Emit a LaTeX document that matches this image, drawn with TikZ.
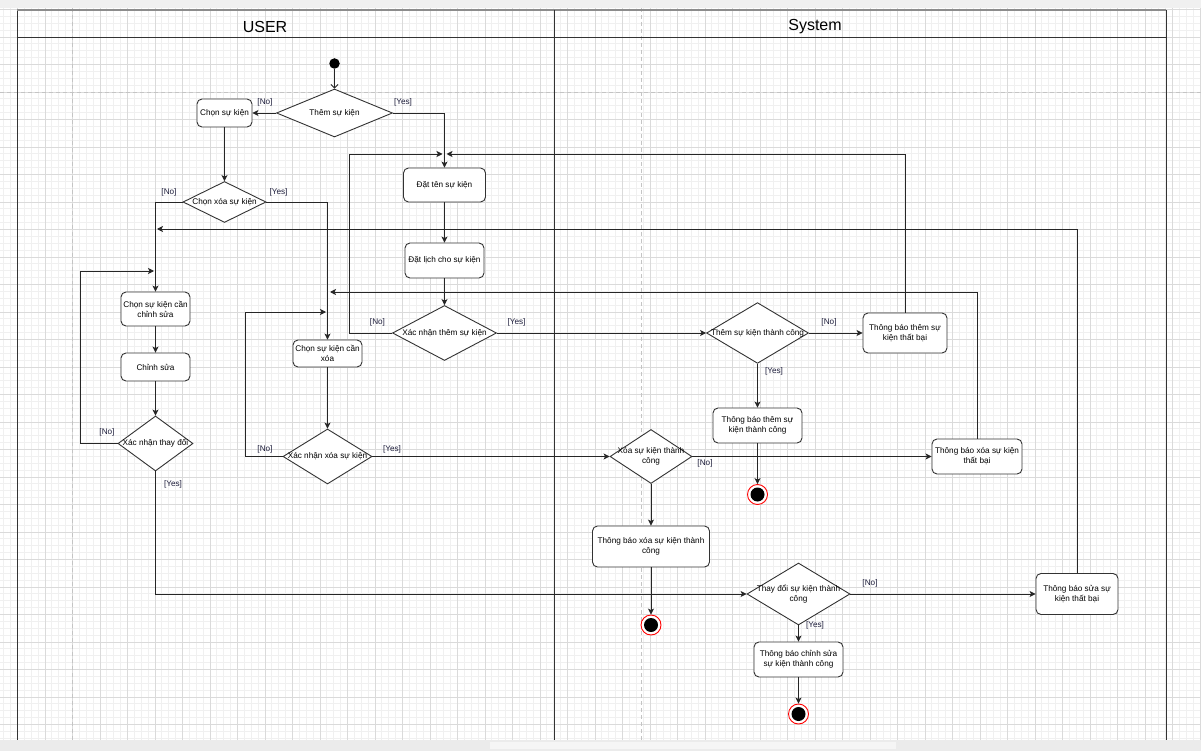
\documentclass[tikz,border=0pt]{standalone}
\usepackage{fontspec}
\setmainfont{Liberation Sans}
\usetikzlibrary{positioning}
\usetikzlibrary{shapes.geometric,arrows.meta}
\definecolor{gridminor}{HTML}{F0F0F0}
\definecolor{gridmajor}{HTML}{DADADA}
\definecolor{pagebreak}{HTML}{C4C4C4}
\definecolor{guardtext}{HTML}{1E1E3C}
\definecolor{lanegray}{HTML}{333333}

\begin{document}
\begin{tikzpicture}[x=1pt,y=-1pt,
  act/.style={draw=lanegray,line width=0.9pt,rounded corners=5pt,fill=white,align=center,
    inner sep=1pt,font=\fontsize{8.2}{10.2}\selectfont},
  dec/.style={diamond,draw=lanegray,line width=0.9pt,fill=white,align=center,
    inner xsep=-20pt,inner ysep=0pt,font=\fontsize{8.2}{10.2}\selectfont},
  guard/.style={inner sep=0pt,text=guardtext,font=\fontsize{8.2}{10}\selectfont},
  startst/.style={circle,fill=black,minimum size=10.5pt,inner sep=0pt},
  endst/.style={circle,draw=red,line width=0.9pt,fill=white,minimum size=20pt,inner sep=0pt,
    path picture={\fill[black] (path picture bounding box.center) circle (7pt);}},
  flow/.style={draw=black!85,line width=0.9pt,-{Stealth[length=6pt,width=6pt,inset=1.5pt]}},
  lanehd/.style={font=\fontsize{16}{18}\selectfont}]
 \useasboundingbox (0,0) rectangle (1201,751);
 \fill[white] (0,0) rectangle (1201,751);
 \foreach \i in {-10,...,164}
   \draw[gridminor,line width=0.8pt] ({72.5+6.875*\i},8) -- ({72.5+6.875*\i},740);
 \foreach \j in {-12,...,94}
   \draw[gridminor,line width=0.8pt] (0,{92+6.875*\j}) -- (1201,{92+6.875*\j});
 \foreach \i in {-2,...,41}
   \draw[gridmajor,line width=0.8pt] ({72.5+27.5*\i},8) -- ({72.5+27.5*\i},740);
 \foreach \j in {-3,...,23}
   \draw[gridmajor,line width=0.8pt] (0,{92+27.5*\j}) -- (1201,{92+27.5*\j});
 \draw[pagebreak,line width=0.9pt,dash pattern=on 4pt off 3pt] (72.5,8) -- (72.5,740);
 \draw[pagebreak,line width=0.9pt,dash pattern=on 4pt off 3pt] (641,8) -- (641,740);
 \draw[pagebreak,line width=0.9pt,dash pattern=on 4pt off 3pt] (0,92) -- (1201,92);
 \fill[black!6] (0,0) rectangle (1201,8);

 \draw[lanegray,line width=0.9pt] (17,740) -- (17,10) -- (1166,10) -- (1166,740);
 \draw[black!45,line width=1.8pt] (17,10) -- (1166,10);
 \draw[lanegray,line width=0.9pt] (17,37) -- (1166,37);
 \draw[lanegray,line width=0.9pt] (554,10) -- (554,740);
 \node[lanehd] (userhd) at (265,27) {USER};
 \node[lanehd] (syshd) at (815,27) {System};

 \node[startst] (start) at (334.5,63.5) {};
 \node[dec,minimum width=116pt,minimum height=48pt] (themq) at (334.5,113) {Thêm sự kiện};
 \node[act,minimum width=55pt,minimum height=28pt] (chon) at (224.5,113) {Chọn sự kiện};
 \node[act,minimum width=82pt,minimum height=34pt] (datten) at (444.5,185) {Đặt tên sự kiện};
 \node[act,minimum width=79pt,minimum height=35pt] (datlich) at (444.5,260.5) {Đặt lịch cho sự kiện};
 \node[dec,minimum width=83pt,minimum height=41pt] (xoaq) at (224.5,202) {Chọn xóa sự kiện};
 \node[act,minimum width=69pt,minimum height=34pt] (chonsua) at (155.5,309) {Chọn sự kiện cần\\chỉnh sửa};
 \node[act,minimum width=69pt,minimum height=28pt] (chinhsua) at (155.5,367) {Chỉnh sửa};
 \node[dec,minimum width=75pt,minimum height=55pt] (xnsua) at (155.5,443.5) {Xác nhận thay đổi};
 \node[act,minimum width=69pt,minimum height=27pt] (chonxoa) at (327.5,353.5) {Chọn sự kiện cần\\xóa};
 \node[dec,minimum width=89pt,minimum height=55pt] (xnxoa) at (327.5,456.5) {Xác nhận xóa sự kiện};
 \node[dec,minimum width=104pt,minimum height=55pt] (xnthem) at (444.5,333) {Xác nhận thêm sự kiện};
 \node[dec,minimum width=102pt,minimum height=55pt] (themkq) at (757.5,333) {Thêm sự kiện thành công};
 \node[act,minimum width=84pt,minimum height=40pt] (themtb) at (905,333) {Thông báo thêm sự\\kiện thất bại};
 \node[act,minimum width=89pt,minimum height=35pt] (themtc) at (757.5,425.5) {Thông báo thêm sự\\kiện thành công};
 \node[endst] (endthem) at (757.5,494.5) {};
 \node[dec,minimum width=82pt,minimum height=54pt] (xoakq) at (651,456.5) {Xóa sự kiện thành\\công};
 \node[act,minimum width=90pt,minimum height=35pt] (xoatb) at (977,456.5) {Thông báo xóa sự kiện\\thất bại};
 \node[act,minimum width=117pt,minimum height=41pt] (xoatc) at (651,546.5) {Thông báo xóa sự kiện thành\\công};
 \node[endst] (endxoa) at (651,625) {};
 \node[dec,minimum width=103pt,minimum height=55pt] (suakq) at (798.5,594) {Thay đổi sự kiện thành\\công};
 \node[act,minimum width=82pt,minimum height=41pt] (suatb) at (1077,594) {Thông báo sửa sự\\kiện thất bại};
 \node[act,minimum width=89pt,minimum height=35pt] (suatc) at (798.5,659.5) {Thông báo chỉnh sửa\\sự kiện thành công};
 \node[endst] (endsua) at (798.5,714) {};

 \coordinate (cthem) at (349,154);
 \coordinate (jthem) at (444.5,154);
 \coordinate (csua) at (80,271);
 \coordinate (jsua) at (155.5,271);
 \coordinate (jsua2) at (155.5,229);
 \coordinate (cxoa) at (245,312);
 \coordinate (jxoa) at (327.5,312);
 \coordinate (jxoa2) at (327.5,292);

 \draw[draw=black!85,line width=0.9pt,-{Straight Barb[length=3.5pt,width=7pt]}] (start) -- (themq.north);
 \draw[flow] (themq.west) -- (chon.east);
 \draw[flow] (themq.east) -| (datten.north);
 \draw[flow] (chon.south) -- (xoaq.north);
 \draw[flow] (xoaq.west) -| (chonsua.north);
 \draw[flow] (xoaq.east) -| (chonxoa.north);
 \draw[flow] (datten.south) -- (datlich.north);
 \draw[flow] (datlich.south) -- (xnthem.north);
 \draw[flow,shorten >=2pt] (xnthem.west) -| (cthem) -- (jthem);
 \draw[flow] (xnthem.east) -- (themkq.west);
 \draw[flow] (themkq.east) -- (themtb.west);
 \draw[flow,shorten >=2pt] (themtb.north) |- (jthem);
 \draw[flow] (themkq.south) -- (themtc.north);
 \draw[flow] (themtc.south) -- (endthem.north);
 \draw[flow] (chonsua.south) -- (chinhsua.north);
 \draw[flow] (chinhsua.south) -- (xnsua.north);
 \draw[flow,shorten >=1.5pt] (xnsua.west) -| (csua) -- (jsua);
 \draw[flow,shorten >=1.5pt] (suatb.north) |- (jsua2);
 \draw[flow] (xnsua.south) |- (suakq.west);
 \draw[flow] (suakq.east) -- (suatb.west);
 \draw[flow] (suakq.south) -- (suatc.north);
 \draw[flow] (suatc.south) -- (endsua.north);
 \draw[flow] (chonxoa.south) -- (xnxoa.north);
 \draw[flow,shorten >=1.5pt] (xnxoa.west) -| (cxoa) -- (jxoa);
 \draw[flow,shorten >=2.5pt] (xoatb.north) |- (jxoa2);
 \draw[flow] (xnxoa.east) -- (xoakq.west);
 \draw[flow] (xoakq.east) -- (xoatb.west);
 \draw[flow] (xoakq.south) -- (xoatc.north);
 \draw[flow] (xoatc.south) -- (endxoa.north);

 \node[guard] (g1) at (265,102.5) {[No]};
 \node[guard] (g2) at (403,102.5) {[Yes]};
 \node[guard] (g3) at (169,192.5) {[No]};
 \node[guard] (g4) at (278.5,192.5) {[Yes]};
 \node[guard] (g5) at (107,432.5) {[No]};
 \node[guard] (g6) at (173,484.5) {[Yes]};
 \node[guard] (g7) at (265,449.5) {[No]};
 \node[guard] (g8) at (392,449.5) {[Yes]};
 \node[guard] (g9) at (377.5,322.5) {[No]};
 \node[guard] (g10) at (516.5,322.5) {[Yes]};
 \node[guard] (g11) at (829,322.5) {[No]};
 \node[guard] (g12) at (774,371) {[Yes]};
 \node[guard] (g13) at (705,463.5) {[No]};
 \node[guard] (g14) at (870,583.5) {[No]};
 \node[guard] (g15) at (815,625.5) {[Yes]};

 \fill[black!8] (0,740) rectangle (1201,751);
 \fill[black!4] (490,742) rectangle (896,749);
\end{tikzpicture}
\end{document}
